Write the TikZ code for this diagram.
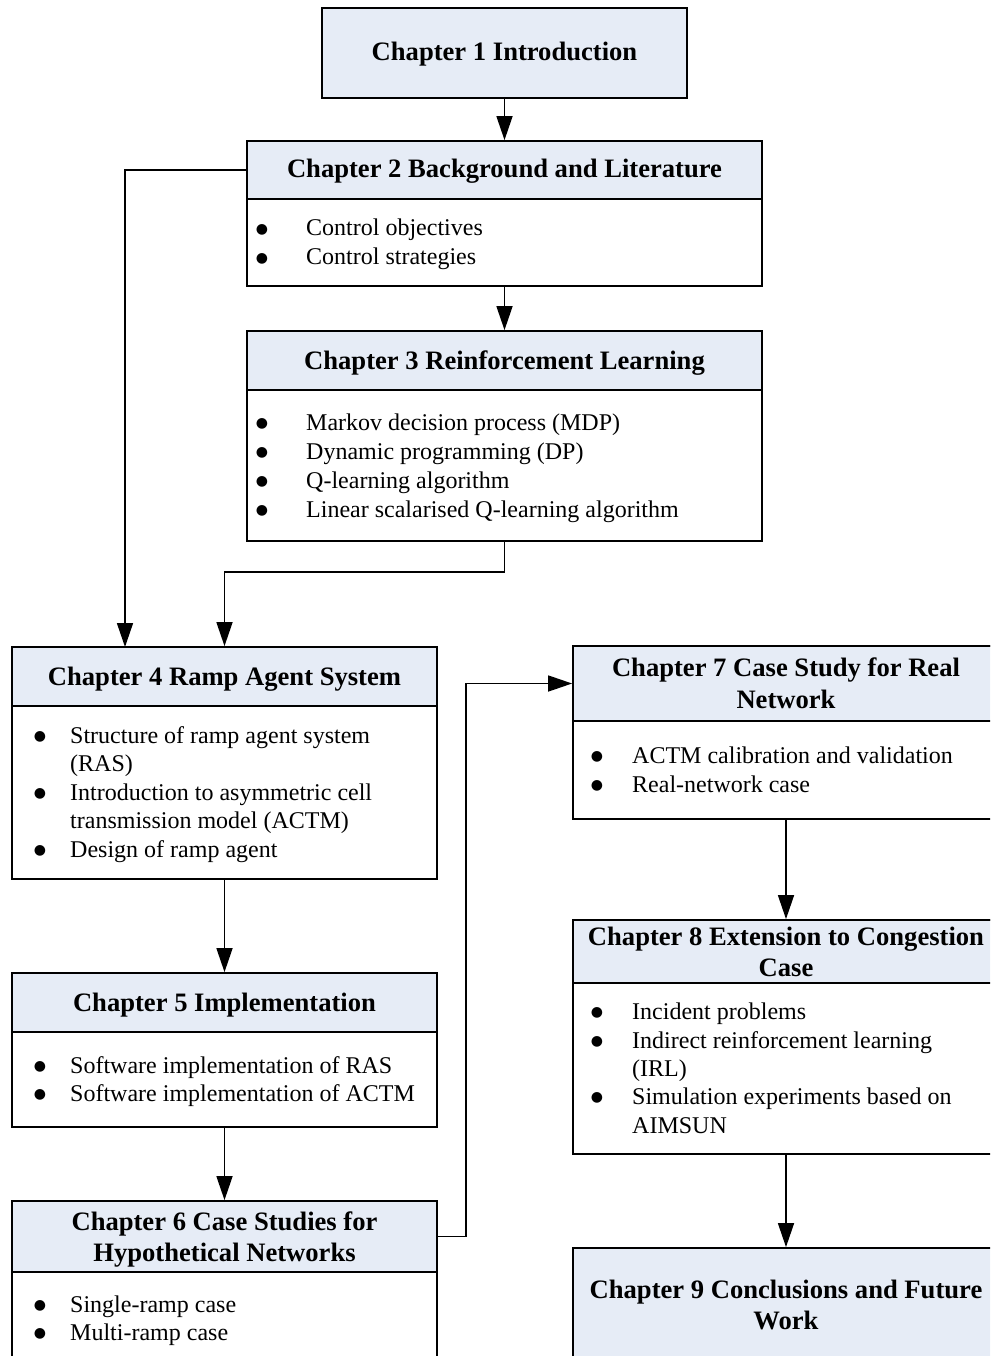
\documentclass[tikz,border=0pt]{standalone}
\usepackage{fontspec}
\setmainfont{Liberation Serif}
\newfontfamily\bulfont{DejaVu Sans}
\usetikzlibrary{arrows.meta,fit}
\definecolor{headfill}{RGB}{230,236,246}
\tikzset{
 boxline/.style={draw=black, line width=1.8pt, inner sep=0pt},
 headbox/.style={boxline, fill=headfill},
 ttl/.style={font=\fontsize{26.6}{31}\selectfont\bfseries, inner sep=0pt, anchor=base},
 bodytxt/.style={font=\fontsize{24}{28.7}\selectfont, inner sep=0pt, anchor=base west},
 bul/.style={font=\bulfont\fontsize{14}{14}\selectfont, inner sep=0pt, anchor=base},
 conn/.style={line width=1.6pt, -{Triangle[length=24pt,width=16pt]}},
}
\newcommand\chbox[6]{%
 \coordinate (#1nw) at (#2,#3); \coordinate (#1se) at (#4,#5); \coordinate (#1hd) at (#4,#6);
 \node[headbox, fit=(#1nw)(#1hd)] (h#1) {};
 \node[boxline, fit=(#1nw)(#1se)] (#1) {};
}
\newcommand\bitem[5]{%
 \node[bul] (#1d) at (#2,#4) {\raisebox{2.3pt}{●}};
 \node[bodytxt] (#1) at (#3,#4) {#5};
}
\begin{document}
\begin{tikzpicture}[x=1pt,y=-1pt]
\useasboundingbox (0,0) rectangle (990,1356);
\clip (0,0) rectangle (990,1356);

% Chapter 1
\coordinate (b1nw) at (322,8); \coordinate (b1se) at (687,98);
\node[headbox, fit=(b1nw)(b1se)] (b1) {};
\node[ttl] (t1) at (504.5,61) {Chapter 1 Introduction};

% Chapter 2
\chbox{b2}{247}{141}{762}{286}{199}
\node[ttl] (t2) at (504.5,178) {Chapter 2 Background and Literature};
\bitem{i21}{262}{306}{236}{Control objectives}
\bitem{i22}{262}{306}{265}{Control strategies}

% Chapter 3
\chbox{b3}{247}{331}{762}{541}{390}
\node[ttl] (t3) at (504.5,369) {Chapter 3 Reinforcement Learning};
\bitem{i31}{262}{306}{430}{Markov decision process (MDP)}
\bitem{i32}{262}{306}{459}{Dynamic programming (DP)}
\bitem{i33}{262}{306}{488}{Q-learning algorithm}
\bitem{i34}{262}{306}{517}{Linear scalarised Q-learning algorithm}

% Chapter 4
\chbox{b4}{12}{647}{437}{879}{706}
\node[ttl] (t4) at (224.5,685) {Chapter 4 Ramp Agent System};
\bitem{i41}{40}{70}{743}{Structure of ramp agent system}
\node[bodytxt] (i41b) at (70,771) {(RAS)};
\bitem{i42}{40}{70}{800}{Introduction to asymmetric cell}
\node[bodytxt] (i42b) at (70,828) {transmission model (ACTM)};
\bitem{i43}{40}{70}{857}{Design of ramp agent}

% Chapter 5
\chbox{b5}{12}{973}{437}{1127}{1032}
\node[ttl] (t5) at (224.5,1011) {Chapter 5 Implementation};
\bitem{i51}{40}{70}{1073}{Software implementation of RAS}
\bitem{i52}{40}{70}{1101}{Software implementation of ACTM}

% Chapter 6
\chbox{b6}{12}{1201}{437}{1380}{1272}
\node[ttl] (t6a) at (224.5,1230) {Chapter 6 Case Studies for};
\node[ttl] (t6b) at (224.5,1261) {Hypothetical Networks};
\bitem{i61}{40}{70}{1312}{Single-ramp case}
\bitem{i62}{40}{70}{1340}{Multi-ramp case}

% Chapter 7
\chbox{b7}{573}{646}{999}{819}{721}
\node[ttl] (t7a) at (786,676) {Chapter 7 Case Study for Real};
\node[ttl] (t7b) at (786,708) {Network};
\bitem{i71}{597}{632}{763}{ACTM calibration and validation}
\bitem{i72}{597}{632}{792}{Real-network case}

% Chapter 8
\chbox{b8}{573}{920}{999}{1154}{983}
\node[ttl] (t8a) at (786,945) {Chapter 8 Extension to Congestion};
\node[ttl] (t8b) at (786,976) {Case};
\bitem{i81}{597}{632}{1019}{Incident problems}
\bitem{i82}{597}{632}{1048}{Indirect reinforcement learning}
\node[bodytxt] (i82b) at (632,1076) {(IRL)};
\bitem{i83}{597}{632}{1104}{Simulation experiments based on}
\node[bodytxt] (i83b) at (632,1133) {AIMSUN};

% Chapter 9
\coordinate (b9nw) at (573,1248); \coordinate (b9se) at (999,1380);
\node[headbox, fit=(b9nw)(b9se)] (b9) {};
\node[ttl] (t9a) at (786,1298) {Chapter 9 Conclusions and Future};
\node[ttl] (t9b) at (786,1329) {Work};

% connectors
\coordinate (b4a) at (125,647);
\draw[conn] (b1.south) -- (b2.north);
\draw[conn] (b2.south) -- (b3.north);
\draw[conn] (hb2.west) -| (b4a);
\draw[conn] (b3.south) -- ++(0,30) -| (b4.north);
\draw[conn] (b4.south) -- (b5.north);
\draw[conn] (b5.south) -- (b6.north);
\draw[conn] (hb6.east) -- ++(28,0) |- (hb7.west);
\draw[conn] (b7.south -| t7a) -- (b8.north -| t8a);
\draw[conn] (b8.south -| t8a) -- (b9.north -| t9a);
\end{tikzpicture}
\end{document}
